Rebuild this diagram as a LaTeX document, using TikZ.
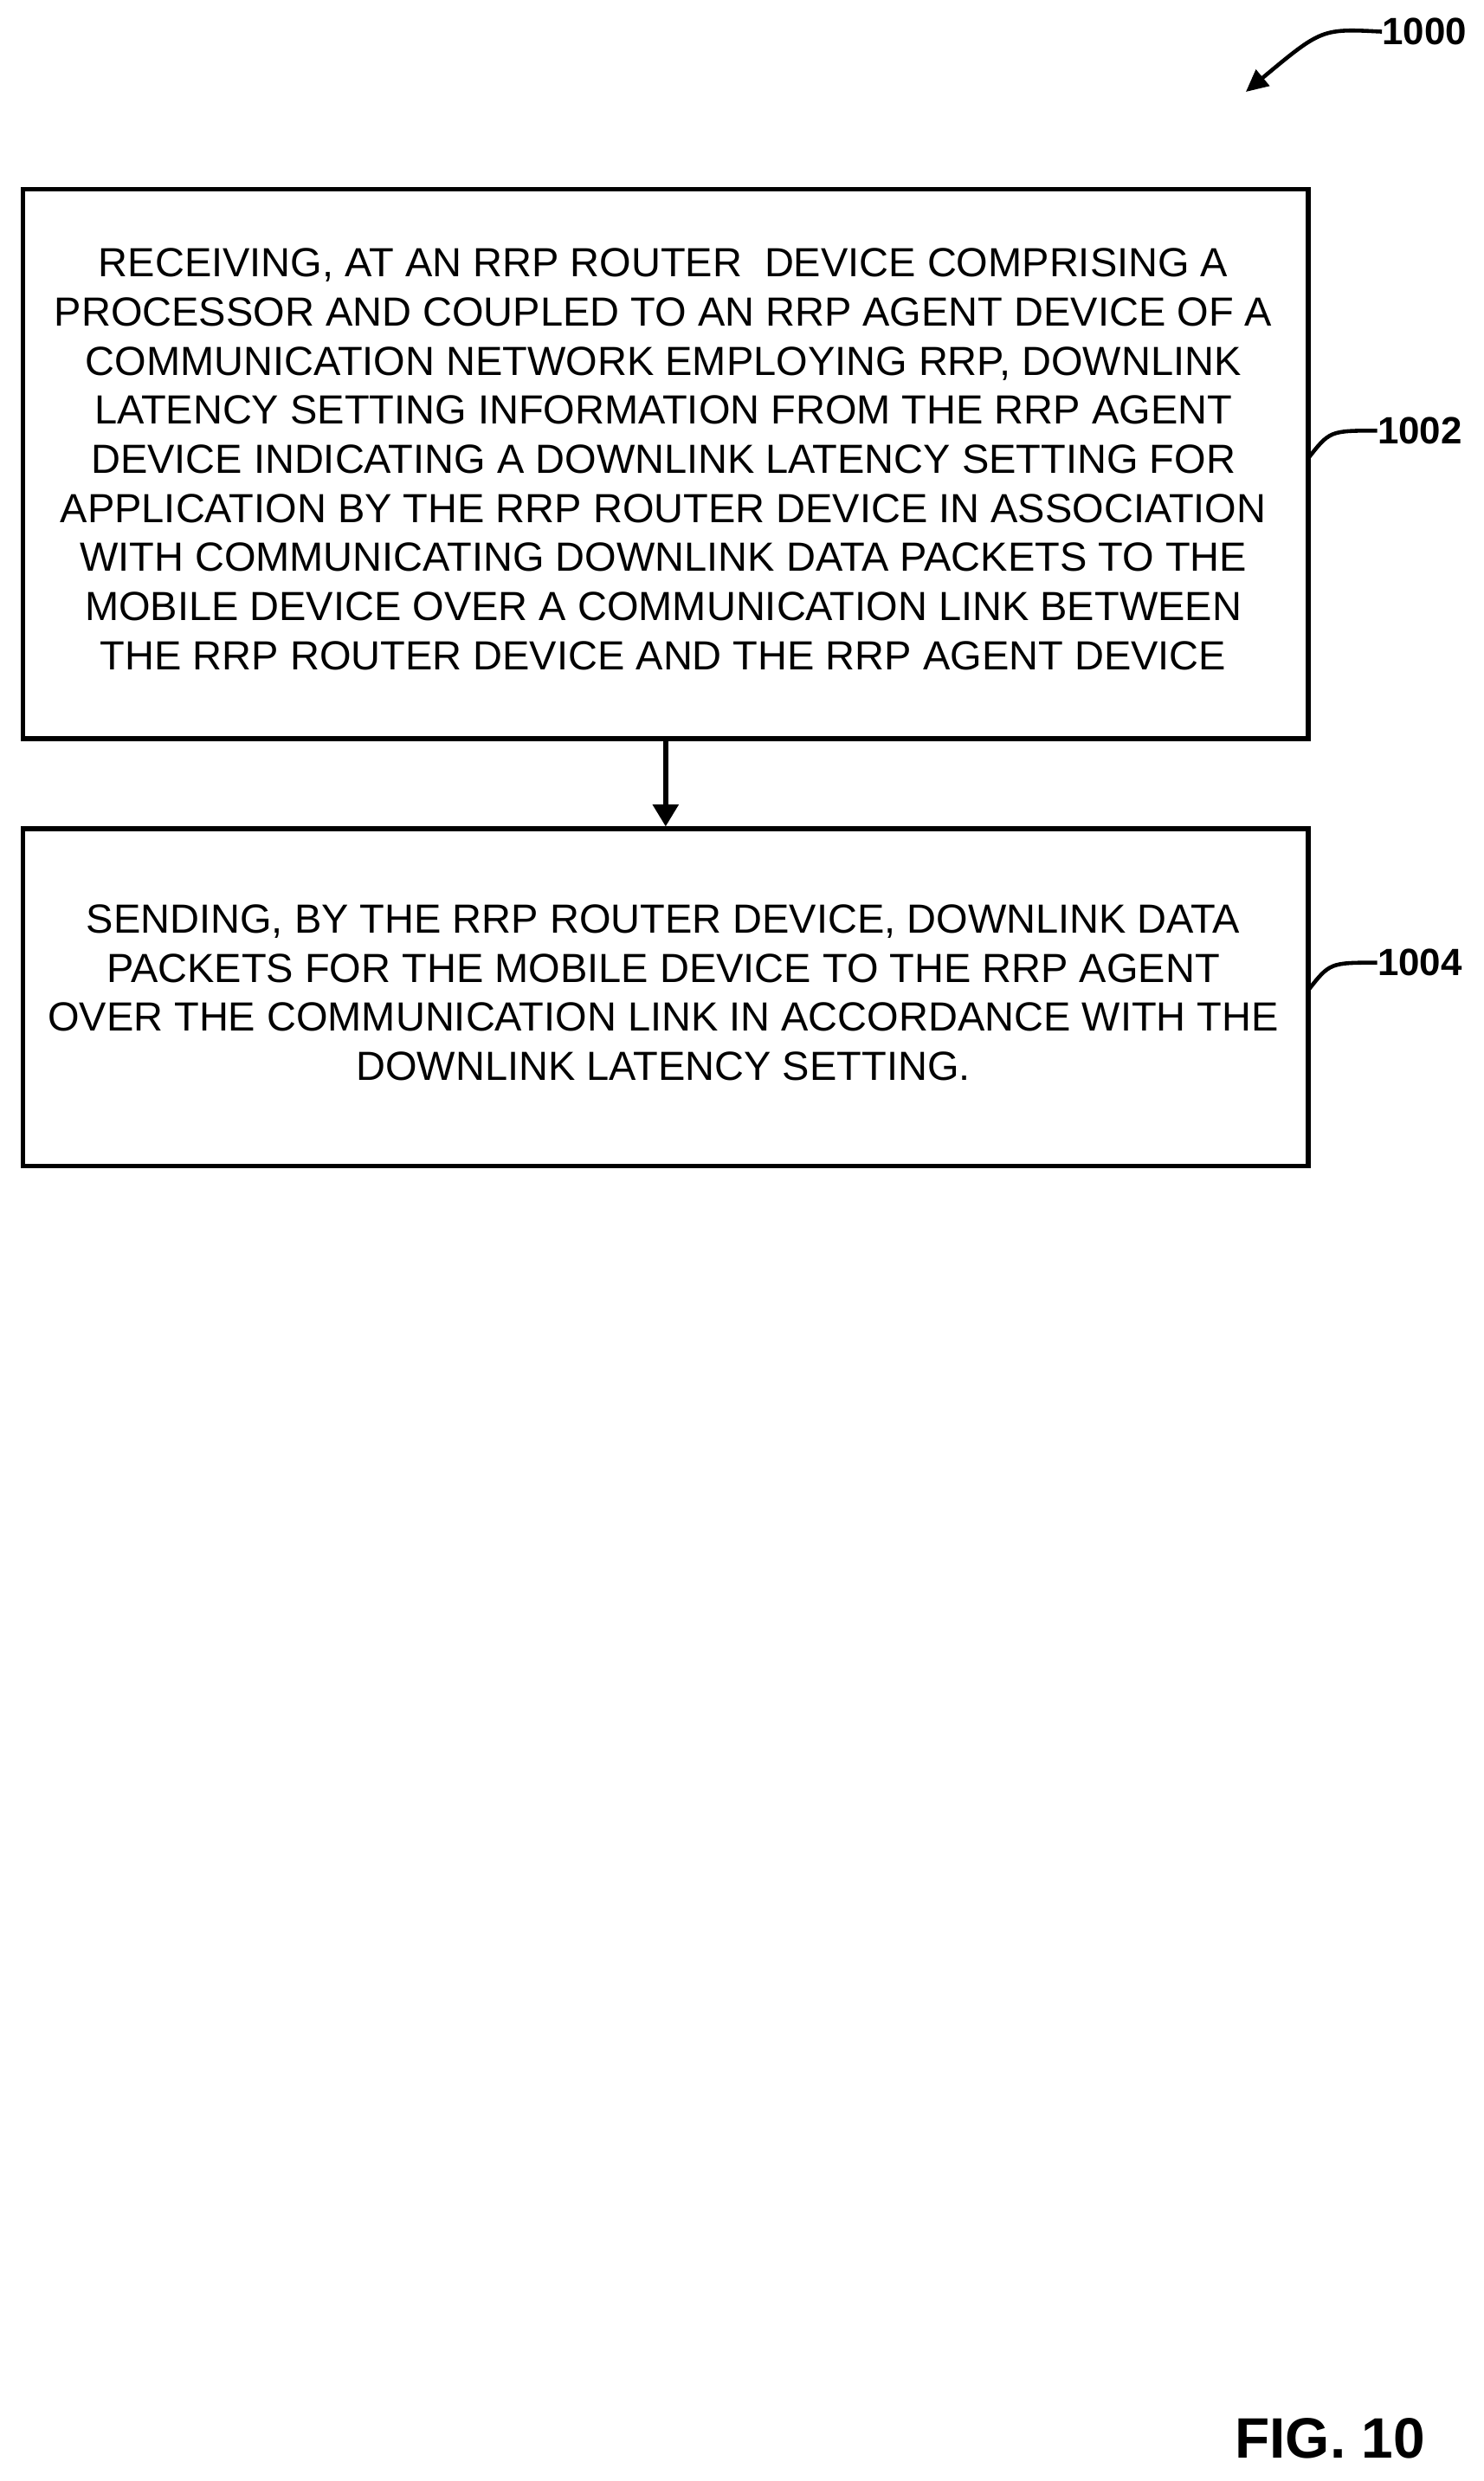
\documentclass[tikz,border=0pt]{standalone}
\usepackage{fontspec}
\setmainfont{Liberation Sans}
\usetikzlibrary{arrows.meta}
\begin{document}
\begin{tikzpicture}[x=1pt,y=-1pt,
  box/.style={draw,line width=3pt,minimum width=812pt,anchor=north west,inner sep=0pt},
  txt/.style={align=center,font=\fontsize{25.7}{31}\selectfont},
  lbl/.style={font=\bfseries\fontsize{24}{28}\selectfont,anchor=west,inner sep=0pt},
  lead/.style={line width=2.5pt}]
\useasboundingbox (0,0) rectangle (937,1567);
\node[box,minimum height=347pt] (b1) at (13,118) {};
\node[txt] (t1) at (419,290) {RECEIVING, AT AN RRP ROUTER\ \ DEVICE COMPRISING A\\PROCESSOR AND COUPLED TO AN RRP AGENT DEVICE OF A\\COMMUNICATION NETWORK EMPLOYING RRP, DOWNLINK\\LATENCY SETTING INFORMATION FROM THE RRP AGENT\\DEVICE INDICATING A DOWNLINK LATENCY SETTING FOR\\APPLICATION BY THE RRP ROUTER DEVICE IN ASSOCIATION\\WITH COMMUNICATING DOWNLINK DATA PACKETS TO THE\\MOBILE DEVICE OVER A COMMUNICATION LINK BETWEEN\\THE RRP ROUTER DEVICE AND THE RRP AGENT DEVICE};
\node[box,minimum height=213pt] (b2) at (13,522) {};
\node[txt] (t2) at (419,627) {SENDING, BY THE RRP ROUTER DEVICE, DOWNLINK DATA\\PACKETS FOR THE MOBILE DEVICE TO THE RRP AGENT\\OVER THE COMMUNICATION LINK IN ACCORDANCE WITH THE\\DOWNLINK LATENCY SETTING.};
\draw[line width=3pt,-{Triangle[length=14pt,width=16pt]}] (b1.south) -- (b2.north);
\node[lbl] (l1) at (870,272) {1002};
\node[lbl] (l2) at (870,608) {1004};
\node[lbl] (l0) at (873,20) {1000};
\node[lbl] (f) at (780,1540) {\fontsize{36}{40}\selectfont FIG. 10};
\coordinate (c1) at (826,290);
\coordinate (c2) at (826,626);
\draw[lead] (c1) .. controls (840,272) .. (l1.west);
\draw[lead] (c2) .. controls (840,608) .. (l2.west);
\coordinate (a0) at (787,58);
\draw[lead,-{Triangle[length=14pt,width=13pt]}] (l0.west) .. controls (835,18) .. (a0);
\end{tikzpicture}
\end{document}
